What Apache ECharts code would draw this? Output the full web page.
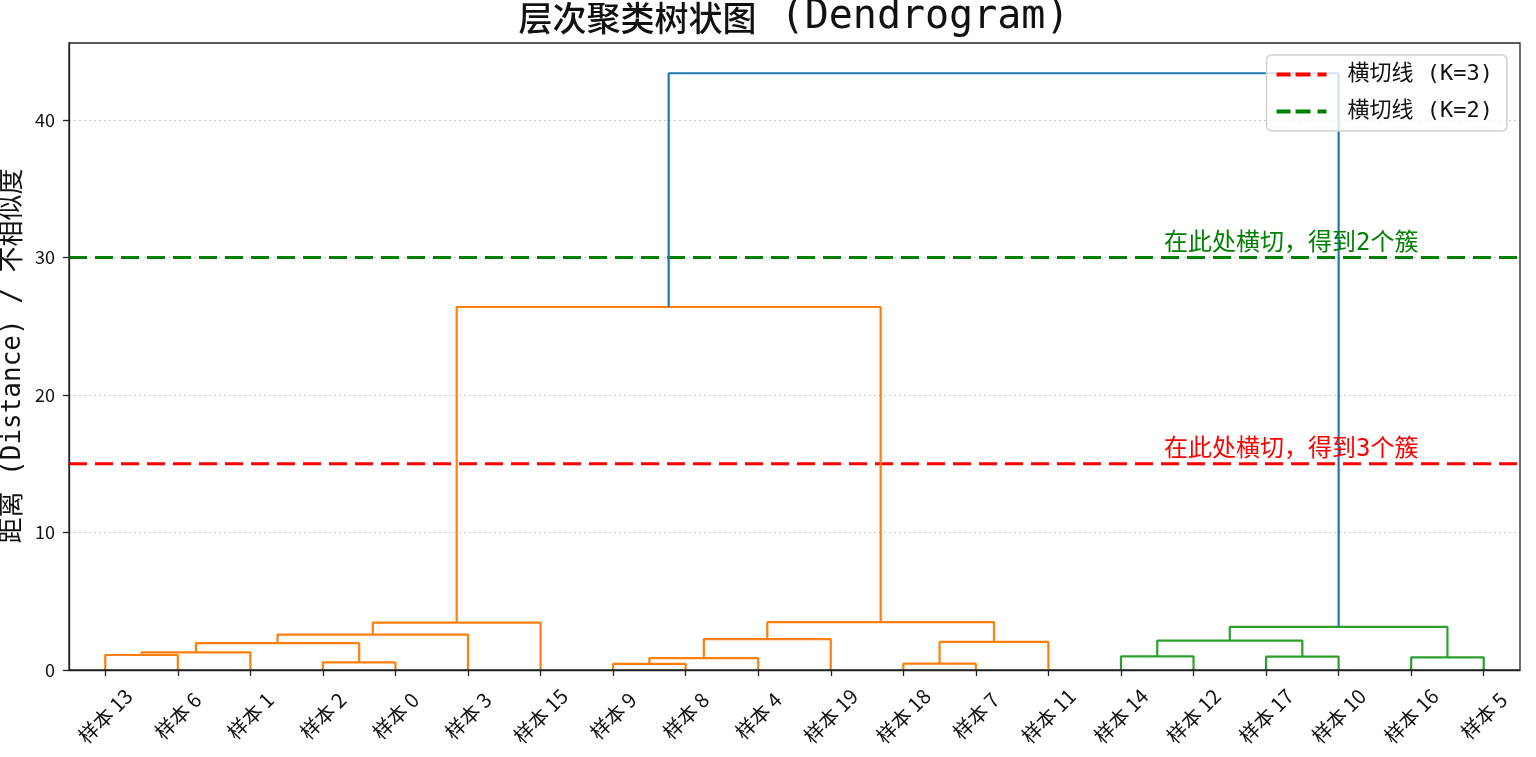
<!DOCTYPE html>
<html>
<head>
<meta charset="utf-8">
<script src="https://cdn.jsdelivr.net/npm/echarts@6/dist/echarts.min.js"></script>
<style>
html,body{margin:0;padding:0;background:#fff;}
#chart{width:1536px;height:757px;}
</style>
</head>
<body>
<div id="chart"></div>
<script>
// ---- data ----
const leafNames = ['样本 13','样本 6','样本 1','样本 2','样本 0','样本 3','样本 15','样本 9','样本 8','样本 4',
                   '样本 19','样本 18','样本 7','样本 11','样本 14','样本 12','样本 17','样本 10','样本 16','样本 5'];
// merges: node ids 0..19 are leaves (in display order), 20.. are merges in order
const mergeLeft   = [0, 20, 3, 21, 23, 24, 7, 26, 27, 11, 29, 28, 25, 14, 16, 33, 18, 35, 32];
const mergeRight  = [1, 2, 4, 22, 5, 6, 8, 9, 10, 12, 13, 30, 31, 15, 17, 34, 19, 36, 37];
const mergeHeight = [1.09, 1.28, 0.56, 1.96, 2.57, 3.45, 0.44, 0.87, 2.25, 0.46, 2.04, 3.48, 26.4,
                     0.99, 0.97, 2.13, 0.92, 3.13, 43.4];
const mergeGroup  = ['C1','C1','C1','C1','C1','C1','C1','C1','C1','C1','C1','C1','C1',
                     'C2','C2','C2','C2','C2','C0'];
const groupColors = {C0:'#1f77b4', C1:'#ff7f0e', C2:'#2ca02c'};
const cutHeights = [15, 30];
const cutNames   = ['横切线 (K=3)', '横切线 (K=2)'];
const cutColors  = ['#ff0000', '#008000'];
const cutNotes   = ['在此处横切，得到3个簇', '在此处横切，得到2个簇'];
const yTicks = [0, 10, 20, 30, 40];

// ---- build ----
const nLeaf = leafNames.length;
const nodeX = [], nodeY = [];
for (let i = 0; i < nLeaf; i++) { nodeX.push(10 * i + 5); nodeY.push(0); }
const linkSeries = [];
for (let k = 0; k < mergeHeight.length; k++) {
  const l = mergeLeft[k], r = mergeRight[k], h = mergeHeight[k];
  nodeX.push((nodeX[l] + nodeX[r]) / 2); nodeY.push(h);
  linkSeries.push({
    type: 'line', xAxisIndex: 0, yAxisIndex: 0, symbol: 'none', silent: true, z: 3,
    data: [[nodeX[l], nodeY[l]], [nodeX[l], h], [nodeX[r], h], [nodeX[r], nodeY[r]]],
    lineStyle: { color: groupColors[mergeGroup[k]], width: 2.2 }
  });
}
const DASH_ICON = 'path://M0,0h14v4h-14z M19,0h15v4h-15z M41,0h9v4h-9z';
const cutSeries = cutHeights.map((h, i) => ({
  type: 'line', name: cutNames[i], xAxisIndex: 0, yAxisIndex: 0, symbol: 'none', silent: true, z: 2,
  data: [[0, h], [nLeaf * 10, h]],
  legendIcon: DASH_ICON,
  itemStyle: { color: cutColors[i] },
  lineStyle: { color: cutColors[i], width: 3, type: [18, 8] }
}));

const FONT = '"DejaVu Sans Mono", "Noto Sans CJK SC", sans-serif';
const SANS = '"Noto Sans CJK SC", sans-serif';
const chart = echarts.init(document.getElementById('chart'));
const option = {
  animation: false,
  backgroundColor: '#fff',
  grid: { left: 69, right: 16, top: 43, bottom: 87, show: true, borderColor: '#222', borderWidth: 1.3, z: 5 },
  legend: {
    orient: 'vertical', right: 29, top: 55, data: cutNames,
    icon: DASH_ICON,
    padding: [7, 14, 7, 10], itemGap: 12, itemWidth: 50, itemHeight: 4,
    borderColor: '#d0d0d0', borderWidth: 1.5, borderRadius: 5, backgroundColor: 'rgba(255,255,255,0.8)',
    textStyle: { fontFamily: FONT, fontSize: 22, color: '#111', lineHeight: 25, padding: [0, 0, 0, 16] }
  },
  xAxis: [
    { type: 'value', min: 0, max: nLeaf * 10, show: false, gridIndex: 0 },
    { type: 'category', data: leafNames, gridIndex: 0, position: 'bottom', boundaryGap: true,
      axisLine: { show: true, lineStyle: { color: '#222', width: 1.3 } },
      axisTick: { show: true, alignWithLabel: true, length: 6, lineStyle: { color: '#222', width: 1.3 } },
      axisLabel: { rotate: 45, fontFamily: SANS, fontSize: 20, color: '#111', margin: 46, interval: 0,
                   align: 'center', verticalAlign: 'middle' },
      splitLine: { show: false } }
  ],
  yAxis: {
    type: 'value', min: 0, max: 45.6, interval: 10,
    axisLine: { show: true, lineStyle: { color: '#222', width: 1.3 } },
    axisTick: { show: true, length: 6, lineStyle: { color: '#222', width: 1.3 } },
    axisLabel: { fontFamily: SANS, fontSize: 18, color: '#111', margin: 14, showMaxLabel: false,
                 formatter: v => (yTicks.indexOf(v) >= 0 ? String(v) : '') },
    splitLine: { show: true, showMinLine: false, showMaxLine: false,
                 lineStyle: { color: '#c8c8c8', type: [2, 3], width: 1 } }
  },
  series: cutSeries.concat(linkSeries),
  graphic: []
};
chart.setOption(option);

const graphics = [
  { type: 'text', x: 794, y: 18, z: 10,
    style: { text: '{a|层次聚类树状图}{b| (Dendrogram)}', textAlign: 'center', textVerticalAlign: 'middle',
      rich: { a: { fontFamily: '"Noto Sans CJK SC"', fontSize: 34, fontWeight: 500, fill: '#111' },
              b: { fontFamily: '"DejaVu Sans Mono"', fontSize: 40, fill: '#111' } } } },
  { type: 'text', x: 13, y: 356, rotation: Math.PI / 2, z: 10,
    style: { text: '距离 (Distance) / 不相似度', textAlign: 'center', textVerticalAlign: 'middle',
      font: '26px ' + FONT, fill: '#111' } }
];
cutHeights.forEach((h, i) => {
  const p = chart.convertToPixel({ xAxisIndex: 0, yAxisIndex: 0 }, [186, h]);
  graphics.push({ type: 'text', x: p[0], y: p[1] - 2, z: 10,
    style: { text: cutNotes[i], textAlign: 'right', textVerticalAlign: 'bottom',
      font: '24px ' + FONT, fill: cutColors[i] } });
});
chart.setOption({ graphic: graphics });
</script>
</body>
</html>
